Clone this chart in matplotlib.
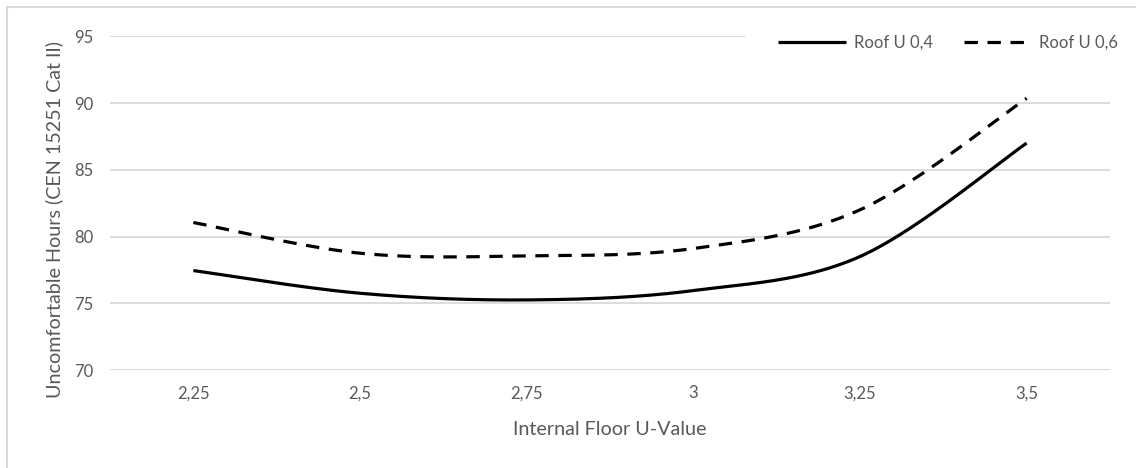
import numpy as np
import matplotlib
matplotlib.use("Agg")
import matplotlib.pyplot as plt
from matplotlib.patches import Rectangle

# Data
floor_u = ["2,25", "2,5", "2,75", "3", "3,25", "3,5"]
roof_04 = [77.45, 75.75, 75.25, 75.95, 78.5, 87.0]
roof_06 = [81.05, 78.75, 78.55, 79.1, 82.0, 90.35]
y_ticks = [70, 75, 80, 85, 90, 95]

plt.rcParams["font.family"] = ["Lato", "DejaVu Sans"]
TXT = "#595959"
GRID = "#d9d9d9"
W, H = 1136, 468


def smooth(xs, ys, n=40):
    """Piecewise cubic Bezier through the points (Catmull-Rom style tangents)."""
    p = np.column_stack([xs, ys]).astype(float)
    ext = np.vstack([p[0], p, p[-1]])
    out = []
    t = np.linspace(0, 1, n)[:, None]
    for i in range(len(p) - 1):
        p0, p1, p2, p3 = ext[i], ext[i + 1], ext[i + 2], ext[i + 3]
        c1 = p1 + (p2 - p0) / 6.0
        c2 = p2 - (p3 - p1) / 6.0
        seg = ((1 - t) ** 3) * p1 + 3 * ((1 - t) ** 2) * t * c1 + 3 * (1 - t) * t ** 2 * c2 + t ** 3 * p2
        out.append(seg if i == 0 else seg[1:])
    seg = np.vstack(out)
    return seg[:, 0], seg[:, 1]


fig = plt.figure(figsize=(W / 100, H / 100), dpi=100)
# chart-area border (right and bottom edges fall outside the image)
fig.add_artist(Rectangle((7 / W, -0.1), 1.2, 1 - 7 / H + 0.1,
                         transform=fig.transFigure, fill=False,
                         edgecolor=GRID, linewidth=1.5, zorder=10))
ax = fig.add_axes([110 / W, 1 - 370 / H, 1000 / W, (370 - 36.3) / H])

x = np.arange(len(floor_u))
sx, sy = smooth(x, roof_04)
ax.plot(sx, sy, color="black", linewidth=2.3, label="Roof U 0,4",
        solid_capstyle="butt")
sx, sy = smooth(x, roof_06)
ax.plot(sx, sy, color="black", linewidth=2.3, dashes=(4.2, 3.0),
        label="Roof U 0,6", dash_capstyle="butt")

ax.set_xlim(-0.5, len(floor_u) - 0.5)
ax.set_ylim(70, 95)
ax.set_yticks(y_ticks)
ax.set_xticks(x)
ax.set_xticklabels(floor_u)
ax.yaxis.grid(True, color=GRID, linewidth=1.3)
ax.set_axisbelow(True)
for s in ax.spines.values():
    s.set_visible(False)
ax.tick_params(axis="both", length=0, labelsize=12, colors=TXT)
ax.tick_params(axis="x", pad=11)
ax.tick_params(axis="y", pad=12)

fig.text(610 / W, 1 - 435 / H, "Internal Floor U-Value", fontsize=14.2,
         color=TXT, ha="center", va="baseline")
fig.text(54.5 / W, 1 - 220 / H, "Uncomfortable Hours (CEN 15251 Cat II)",
         fontsize=14.2, color=TXT, ha="center", va="center", rotation=90)

leg = fig.legend(loc="center right", bbox_to_anchor=(1150 / W, 1 - 43 / H),
                 ncol=2, frameon=True, fontsize=12, handlelength=4.07,
                 handletextpad=0.48, columnspacing=1.86, borderpad=1.9,
                 borderaxespad=0)
leg.get_frame().set_edgecolor("white")
leg.get_frame().set_facecolor("white")
leg.get_frame().set_alpha(1)
leg.get_frame().set_boxstyle("square", pad=0)
for t in leg.get_texts():
    t.set_color(TXT)

fig.savefig("out.png", dpi=100, facecolor="white")
